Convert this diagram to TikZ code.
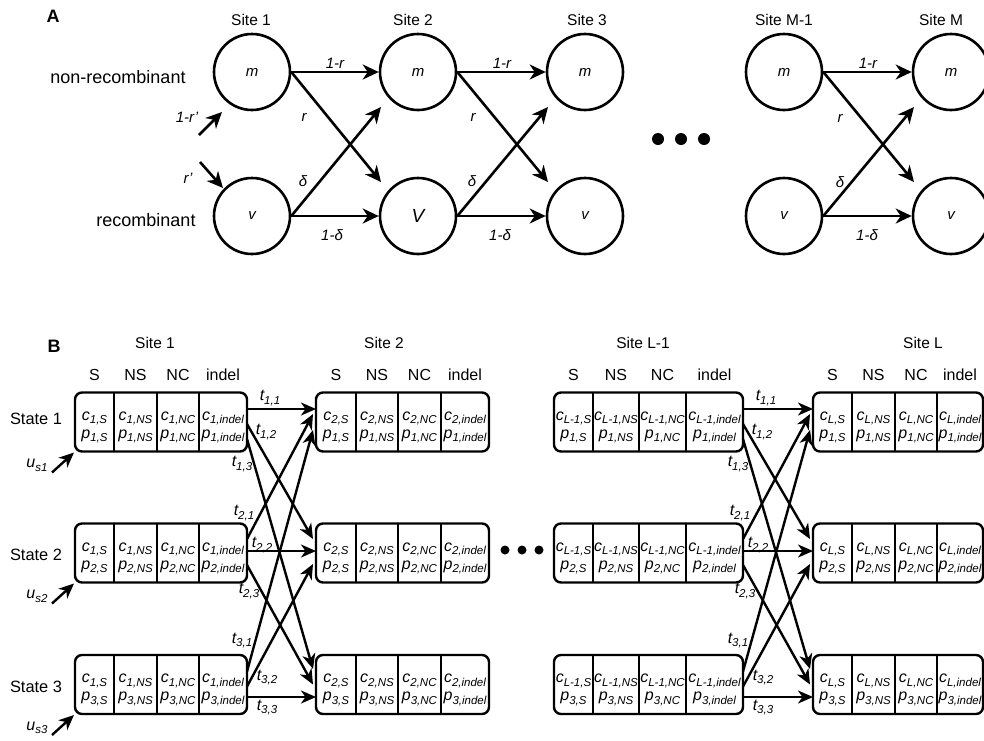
\documentclass[tikz,border=0pt]{standalone}
\usepackage{fontspec}
\setmainfont{Liberation Sans}
\usetikzlibrary{arrows.meta,calc}
\newcommand\fs[1]{\fontsize{#1}{#1}\selectfont}
\newcommand\sbs[1]{\raisebox{-3.5pt}{\fs{11.5}#1}}
% box: name, yc, x0..x4, site subscript, state
\newcommand\mybox[9]{%
  \node[boxst,minimum width={#7-#3},anchor=west] (#1) at (#3,#2) {};
  \draw[line width=2.4pt] (#4,{#2-29.5}) -- (#4,{#2+29.5});
  \draw[line width=2.4pt] (#5,{#2-29.5}) -- (#5,{#2+29.5});
  \draw[line width=2.4pt] (#6,{#2-29.5}) -- (#6,{#2+29.5});
  \node[cellt] (#1c1) at ({(#3+#4)/2},{#2-2}) {c\sbs{#8,S}};
  \node[cellt] (#1c2) at ({(#4+#5)/2},{#2-2}) {c\sbs{#8,NS}};
  \node[cellt] (#1c3) at ({(#5+#6)/2},{#2-2}) {c\sbs{#8,NC}};
  \node[cellt] (#1c4) at ({(#6+#7)/2},{#2-2}) {c\sbs{#8,indel}};
  \node[cellt] (#1p1) at ({(#3+#4)/2},{#2+16}) {p\sbs{#9,S}};
  \node[cellt] (#1p2) at ({(#4+#5)/2},{#2+16}) {p\sbs{#9,NS}};
  \node[cellt] (#1p3) at ({(#5+#6)/2},{#2+16}) {p\sbs{#9,NC}};
  \node[cellt] (#1p4) at ({(#6+#7)/2},{#2+16}) {p\sbs{#9,indel}};
}
\newcommand\myhead[7]{%
  \node[sitelab] (#1t) at (#7,343) {#6};
}
\newcommand\mycols[6]{%
  \node[hdr] (#1a) at ({(#2+#3)/2},375) {S};
  \node[hdr] (#1b) at ({(#3+#4)/2},375) {NS};
  \node[hdr] (#1c) at ({(#4+#5)/2},375) {NC};
  \node[hdr] (#1d) at ({(#5+#6)/2},375) {indel};
}
% transitions between site #1 and site #2
\newcommand\mytrans[2]{%
  \draw[arB] ($(b#11.east)+(0,-13)$) -- ($(b#21.west)+(0,-13)$);
  \draw[arB] ($(b#11.east)+(0,2)$) -- ($(b#22.west)+(-3,-14)$);
  \draw[arB] ($(b#11.east)+(0,17)$) -- ($(b#23.west)+(-3,-15.5)$);
  \draw[arB] ($(b#12.east)+(0,-14)$) -- ($(b#21.west)+(-3,-8)$);
  \draw[arB] ($(b#12.east)+(0,-2)$) -- ($(b#22.west)+(0,-2)$);
  \draw[arB] ($(b#12.east)+(0,12)$) -- ($(b#23.west)+(-3,0)$);
  \draw[arB] ($(b#13.east)+(0,-13)$) -- ($(b#21.west)+(-3,8)$);
  \draw[arB] ($(b#13.east)+(0,2)$) -- ($(b#22.west)+(-3,11)$);
  \draw[arB] ($(b#13.east)+(0,12.5)$) -- ($(b#23.west)+(0,12.5)$);
  \node[tlab] (t#1-11) at ($(b#11.east)+(23,-24)$) {t\sbs{1,1}};
  \node[tlab] (t#1-12) at ($(b#11.east)+(19,10)$) {t\sbs{1,2}};
  \node[tlab] (t#1-13) at ($(b#11.east)+(-5,42)$) {t\sbs{1,3}};
  \node[tlab] (t#1-21) at ($(b#12.east)+(-3,-40)$) {t\sbs{2,1}};
  \node[tlab] (t#1-22) at ($(b#12.east)+(15,-8)$) {t\sbs{2,2}};
  \node[tlab] (t#1-23) at ($(b#12.east)+(2,38)$) {t\sbs{2,3}};
  \node[tlab] (t#1-31) at ($(b#13.east)+(-5,-44)$) {t\sbs{3,1}};
  \node[tlab] (t#1-32) at ($(b#13.east)+(20,-7)$) {t\sbs{3,2}};
  \node[tlab] (t#1-33) at ($(b#13.east)+(20,23)$) {t\sbs{3,3}};
}
\begin{document}
\begin{tikzpicture}[x=1pt,y=-1pt,
  stnode/.style={circle,draw,line width=2.6pt,minimum size=76pt,inner sep=0pt,font=\itshape\fs{15}},
  arA/.style={line width=2.6pt,-{Stealth[length=16pt,width=15pt,inset=5pt]}},
  arB/.style={line width=2.4pt,-{Stealth[length=15pt,width=13pt,inset=4.5pt]}},
  lab/.style={font=\itshape\fs{15},inner sep=0pt},
  sitelab/.style={font=\fs{15.5},inner sep=0pt},
  rowlab/.style={font=\fs{18},inner sep=0pt},
  panel/.style={font=\bfseries\fs{18},inner sep=0pt},
  hdr/.style={font=\fs{16},inner sep=0pt},
  statelab/.style={font=\fs{16.4},inner sep=0pt},
  boxst/.style={draw,line width=2.4pt,rounded corners=7pt,inner sep=0pt,outer sep=0pt,minimum height=59pt},
  cellt/.style={font=\itshape\fs{16},inner sep=0pt,anchor=base},
  tlab/.style={font=\itshape\fs{16},inner sep=0pt},
  bigdot/.style={circle,fill,inner sep=0pt}
]
\useasboundingbox (0,0) rectangle (984,740);
% ---------------- Panel A ----------------
\node[panel] (A) at (53,16) {A};
\node[sitelab] (sa1) at (251,20) {Site 1};
\node[sitelab] (sa2) at (413,20) {Site 2};
\node[sitelab] (sa3) at (587,20) {Site 3};
\node[sitelab] (sa4) at (784,20) {Site M-1};
\node[sitelab] (sa5) at (941,20) {Site M};
\node[rowlab] (nr) at (118,77) {non-recombinant};
\node[rowlab] (rc) at (146,220) {recombinant};
\node[stnode] (m1) at (252,72) {m};
\node[stnode] (v1) at (252,216) {v};
\node[stnode] (m2) at (418,72) {m};
\node[stnode,font=\itshape\fs{19}] (v2) at (418,216) {V};
\node[stnode] (m3) at (585,72) {m};
\node[stnode] (v3) at (585,216) {v};
\node[stnode] (m4) at (784,72) {m};
\node[stnode] (v4) at (784,216) {v};
\node[stnode] (m5) at (951,72) {m};
\node[stnode] (v5) at (951,216) {v};
\foreach \a/\b in {1/2,2/3,4/5}{
  \draw[arA] (m\a.east) -- (m\b.west);
  \draw[arA] (v\a.east) -- (v\b.west);
  \draw[arA] (m\a.east) -- ($(v\b.center)+(-37,-34)$);
  \draw[arA] (v\a.east) -- ($(m\b.center)+(-37,35)$);
}
\node[lab] (l1) at (335,63) {1-r};
\node[lab] (l2) at (502,63) {1-r};
\node[lab] (l3) at (868,63) {1-r};
\node[lab] (l4) at (304,117) {r};
\node[lab] (l5) at (473,117) {r};
\node[lab] (l6) at (840,118) {r};
\node[lab] (l7) at (303,181) {δ};
\node[lab] (l8) at (472,181) {δ};
\node[lab] (l9) at (840,182) {δ};
\node[lab] (l10) at (332,235) {1-δ};
\node[lab] (l11) at (500,235) {1-δ};
\node[lab] (l12) at (867,235) {1-δ};
\coordinate (ia) at (199,135);
\coordinate (ib) at (200,162);
\draw[arA] (ia) -- ($(m1.center)+(-30,40)$);
\draw[arA] (ib) -- ($(v1.center)+(-29,-28)$);
\node[lab] (l13) at (187,117) {1-r’};
\node[lab] (l14) at (188,178) {r’};
\node[bigdot,minimum size=12pt] (da1) at (658,139) {};
\node[bigdot,minimum size=12pt] (da2) at (681,139) {};
\node[bigdot,minimum size=12pt] (da3) at (704,139) {};
% ---------------- Panel B ----------------
\node[panel] (B) at (54,346) {B};
\myhead{hA}{75}{114}{157}{199}{Site 1}{155}
\myhead{hB}{316}{356}{398}{441}{Site 2}{384}
\myhead{hC}{554}{593}{639}{686}{Site L-1}{643}
\myhead{hD}{813}{852}{895}{937}{Site L}{923}
\mycols{cA}{75}{114}{157}{199}{247}
\mycols{cB}{316}{356}{398}{441}{489}
\mycols{cC}{554}{593}{639}{686}{743}
\mycols{cD}{813}{852}{895}{937}{983}
\node[statelab] (st1) at (36,419) {State 1};
\node[statelab] (st2) at (36,555) {State 2};
\node[statelab] (st3) at (36,687) {State 3};
\foreach \s/\y in {1/422,2/553,3/684.5}{
  \mybox{bA\s}{\y}{75}{114}{157}{199}{247}{1}{\s}
  \mybox{bB\s}{\y}{316}{356}{398}{441}{489}{2}{\s}
  \mybox{bC\s}{\y}{554}{593}{639}{686}{743}{L-1}{\s}
  \mybox{bD\s}{\y}{813}{852}{895}{937}{983}{L}{\s}
}
\mytrans{A}{B}
\mytrans{C}{D}
\foreach \s in {1,2,3}{
  \coordinate (us\s) at ($(bA\s.south west)+(-23,21)$);
  \draw[arB] (us\s) -- ($(bA\s.south west)+(-1,1)$);
  \node[tlab] (ul\s) at ($(bA\s.south west)+(-38,14)$) {u\sbs{s\s}};
}
\node[bigdot,minimum size=9pt] (db1) at (505,550) {};
\node[bigdot,minimum size=9pt] (db2) at (522,550) {};
\node[bigdot,minimum size=9pt] (db3) at (539,550) {};
\end{tikzpicture}
\end{document}
